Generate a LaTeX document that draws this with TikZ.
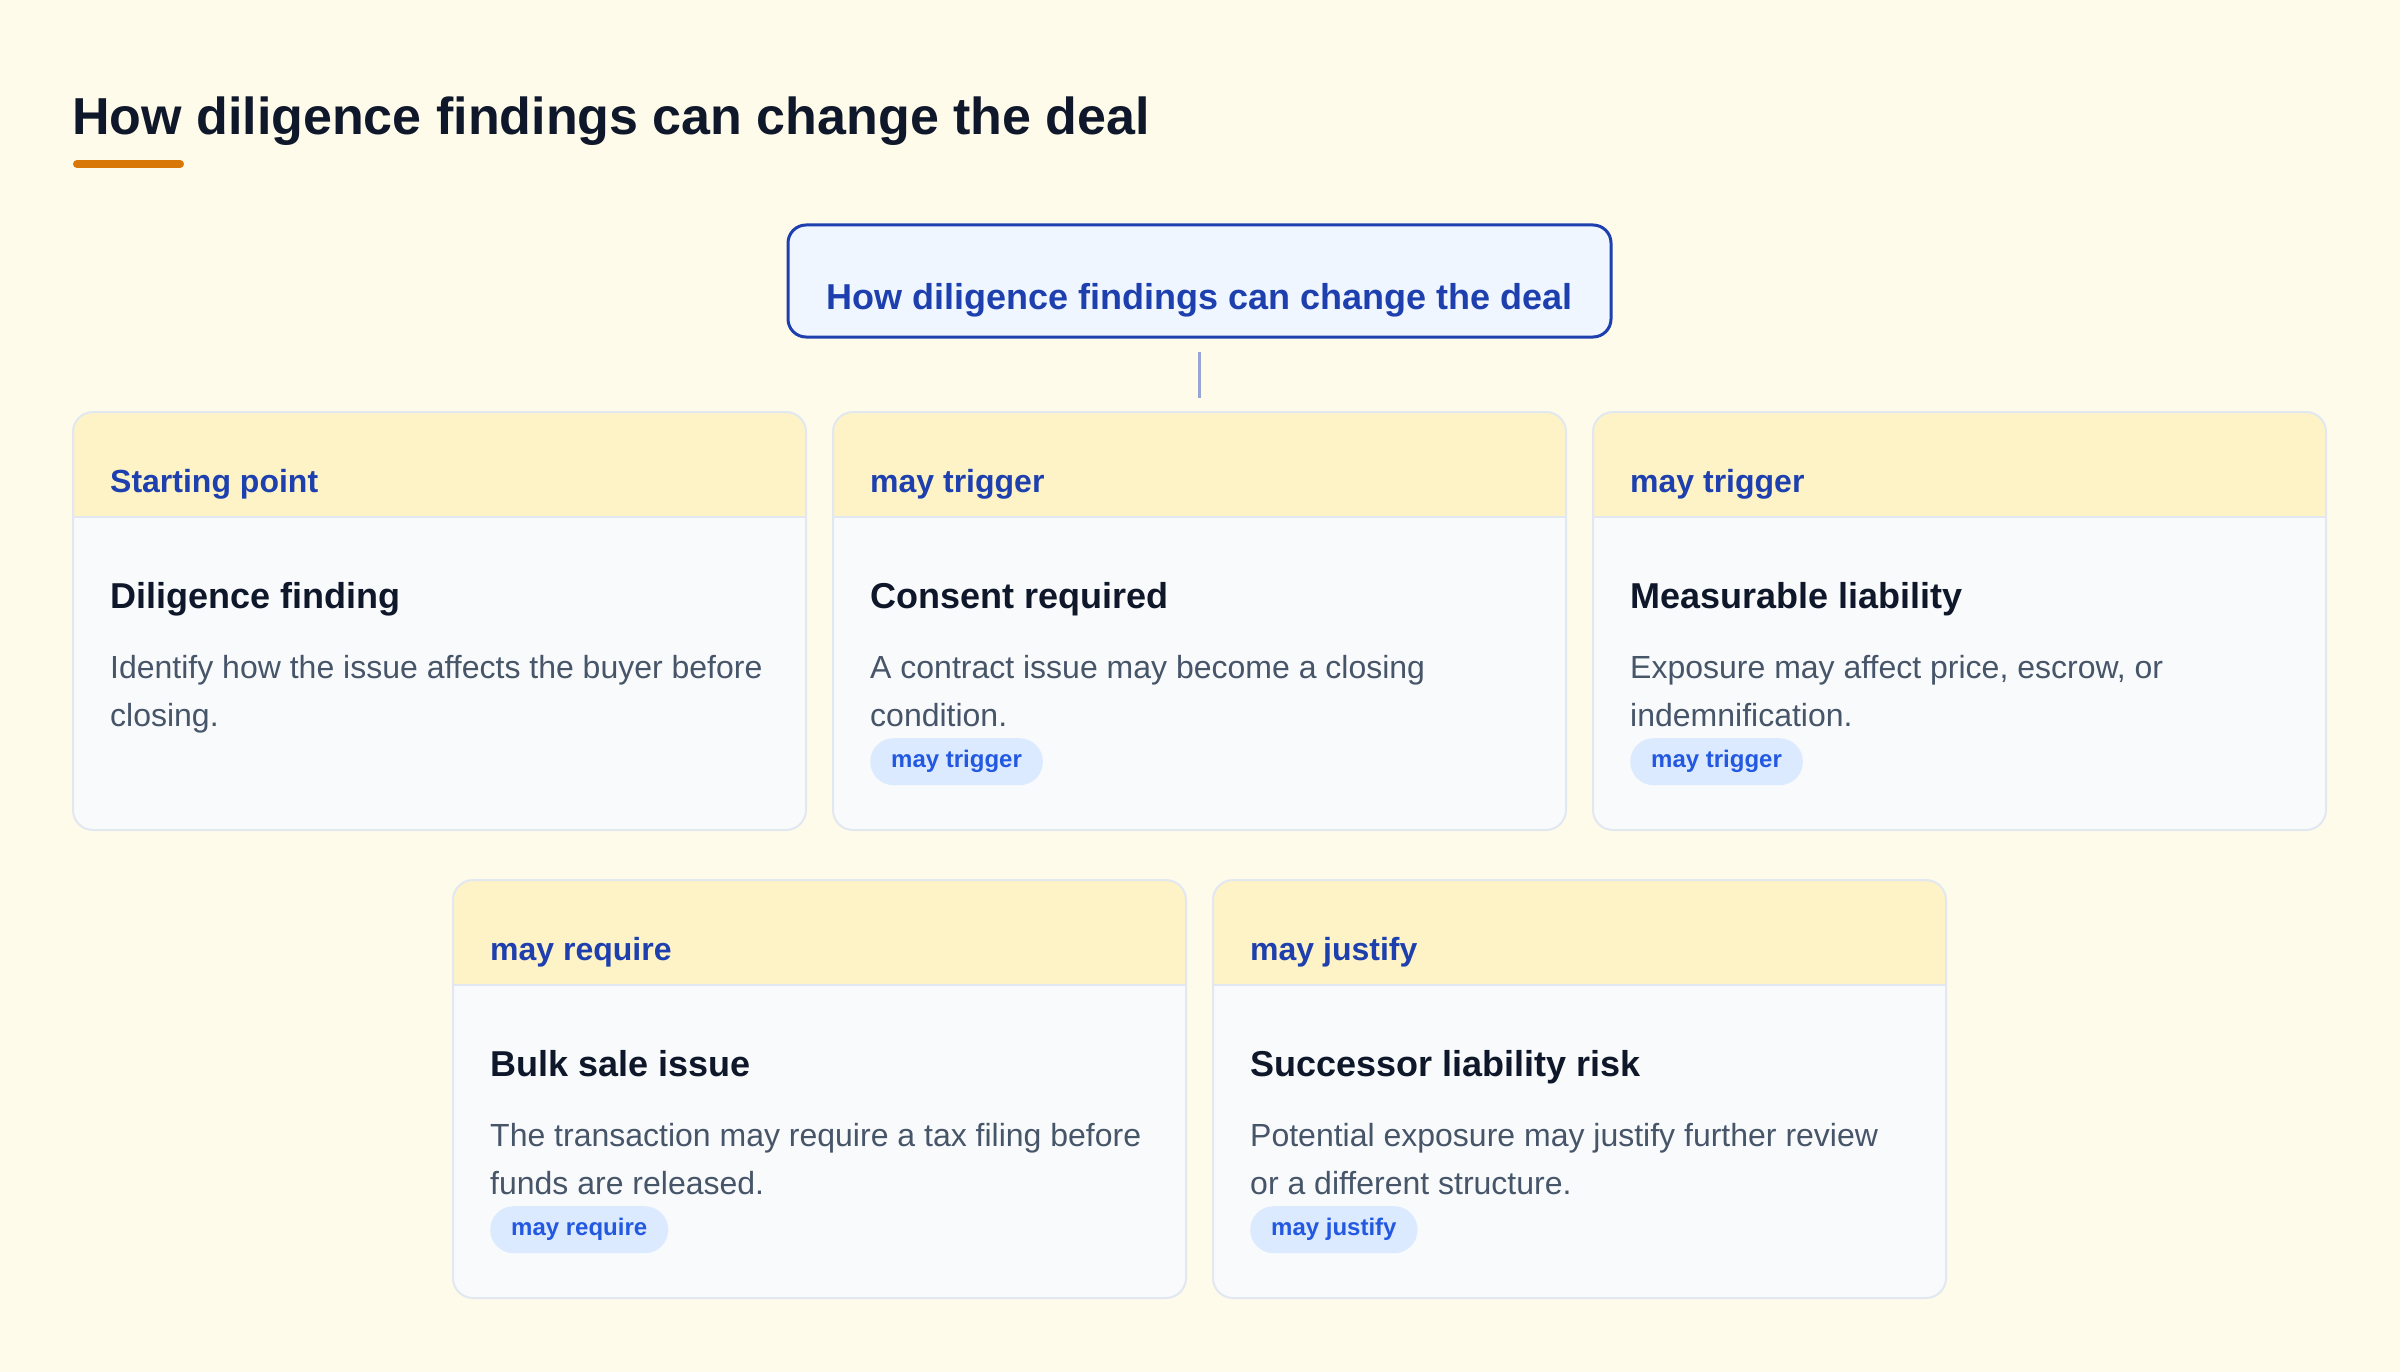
\documentclass[tikz,border=0pt]{standalone}
\usepackage{fontspec}
\setmainfont{Liberation Sans}
\definecolor{bg}{HTML}{FFFBEB}
\definecolor{ink}{HTML}{0F172A}
\definecolor{slatetext}{HTML}{475569}
\definecolor{hdrblue}{HTML}{1E40AF}
\definecolor{badgeblue}{HTML}{2358E0}
\definecolor{badgefill}{HTML}{DBEAFE}
\definecolor{boxfill}{HTML}{EFF6FF}
\definecolor{cardfill}{HTML}{F8FAFC}
\definecolor{cardline}{HTML}{E2E8F0}
\definecolor{hdrfill}{HTML}{FEF3C7}
\definecolor{accent}{HTML}{D97706}
\definecolor{connline}{HTML}{97A6D3}
\newcommand{\mkcard}[7]{%
  \node[card] (#1) at (#2,#3) {};
  \node[hdrtext] (#1hdr) at ([shift={(37,80)}]#1.north west) {#4};
  \node[headtext] (#1head) at ([shift={(37,196)}]#1.north west) {#5};
  \node[bodytext] (#1bodya) at ([shift={(37,266)}]#1.north west) {#6};
  \node[bodytext] (#1bodyb) at ([shift={(37,314)}]#1.north west) {#7};
}
\newcommand{\mkbadge}[2]{%
  \node[badge] (#1badge) at ([shift={(37,326)}]#1.north west) {#2};
}
\begin{document}
\begin{tikzpicture}[x=1pt,y=-1pt,
  card/.style={draw=cardline, line width=2pt, fill=cardfill, rounded corners=20pt,
    minimum width=733pt, minimum height=418pt, inner sep=0pt, outer sep=0pt, anchor=north west,
    path picture={
      \fill[hdrfill, sharp corners] (path picture bounding box.north west) rectangle ([yshift=-105pt]path picture bounding box.north east);
      \draw[cardline, line width=2pt, sharp corners] ([yshift=-105pt]path picture bounding box.north west) -- ([yshift=-105pt]path picture bounding box.north east);
    }},
  hdrtext/.style={anchor=base west, inner sep=0pt, text=hdrblue, font=\fontsize{32}{38}\selectfont\bfseries},
  headtext/.style={anchor=base west, inner sep=0pt, text=ink, font=\fontsize{36}{42}\selectfont\bfseries},
  bodytext/.style={anchor=base west, inner sep=0pt, text=slatetext, font=\fontsize{32}{38}\selectfont},
  badge/.style={anchor=north west, fill=badgefill, rounded corners=23.5pt, minimum height=47pt,
    inner xsep=21pt, inner ysep=0pt, text height=17pt, text depth=5pt, text=badgeblue,
    font=\fontsize{24}{28}\selectfont\bfseries},
  topbox/.style={draw=hdrblue, line width=3pt, fill=boxfill, rounded corners=18pt,
    minimum width=823pt, minimum height=112pt, inner xsep=0pt, inner ysep=0pt,
    text height=84pt, text depth=28pt, text=hdrblue, font=\fontsize{36}{42}\selectfont\bfseries},
  conn/.style={draw=connline, line width=3pt}
]
\fill[bg] (0,0) rectangle (2400,1372);
\useasboundingbox (0,0) rectangle (2400,1372);

\node[anchor=base west, inner sep=0pt, text=ink, font=\fontsize{52}{60}\selectfont\bfseries] (title) at (72,135) {How diligence findings can change the deal};
\draw[accent, line width=8pt, line cap=round] (77,164) -- (180,164);

\node[topbox] (top) at (1199.5,281) {How diligence findings can change the deal};

\mkcard{c1}{73}{412}{Starting point}{Diligence finding}{Identify how the issue affects the buyer before}{closing.}
\mkcard{c2}{833}{412}{may trigger}{Consent required}{A contract issue may become a closing}{condition.}
\mkbadge{c2}{may trigger}
\mkcard{c3}{1593}{412}{may trigger}{Measurable liability}{Exposure may affect price, escrow, or}{indemnification.}
\mkbadge{c3}{may trigger}
\mkcard{c4}{453}{880}{may require}{Bulk sale issue}{The transaction may require a tax filing before}{funds are released.}
\mkbadge{c4}{may require}
\mkcard{c5}{1213}{880}{may justify}{Successor liability risk}{Potential exposure may justify further review}{or a different structure.}
\mkbadge{c5}{may justify}

\draw[conn, shorten <=13pt, shorten >=14pt] (top.south) -- (c2.north);
\end{tikzpicture}
\end{document}
